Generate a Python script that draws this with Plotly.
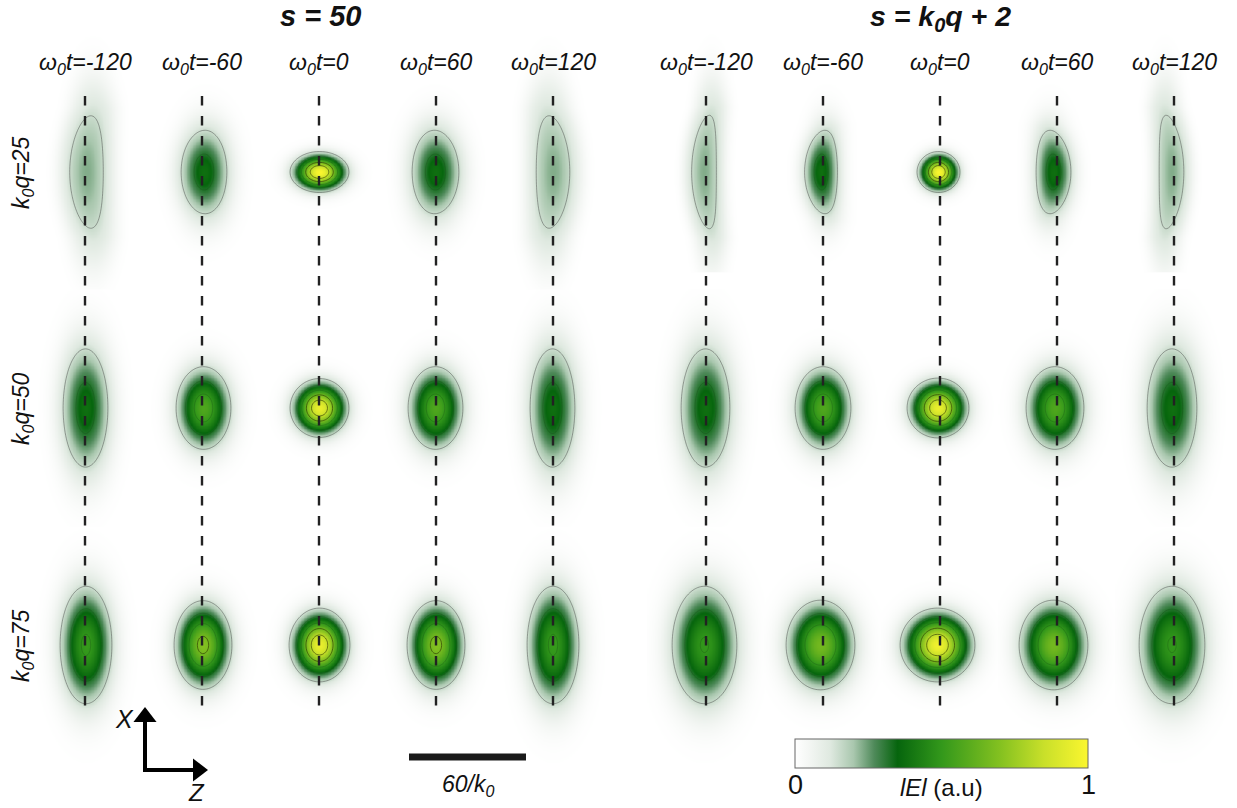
import numpy as np
import plotly.graph_objects as go

# --- values -----------------------------------------------------------------
time_labels = ["-120", "-60", "0", "60", "120"]
q_labels = ["25", "50", "75"]
group_titles = ["s = 50", "s = k<sub>0</sub>q + 2"]

# column / row positions of the panels
line_x = [85, 202, 319, 436, 553, 706, 823, 940, 1057, 1174]
row_y = [172, 408, 645]

# per panel (row by row, 10 columns): peak |E|, contour centre, half widths, bow
peak_q25 = [.23, .38, 1.0, .38, .23, .23, .38, 1.0, .38, .23]
peak_q50 = [.38, .57, .95, .57, .38, .38, .57, .95, .57, .38]
peak_q75 = [.51, .70, .95, .70, .51, .50, .66, .97, .66, .50]

center_q25 = [86.5, 204, 319.5, 435.5, 553, 704, 821, 938.5, 1053.5, 1171.5]
center_q50 = [85.5, 203.5, 319.5, 435.5, 552.5, 705.5, 823, 938, 1055, 1172]
center_q75 = [86, 203, 319.5, 436, 553, 704.5, 820.5, 937.5, 1053.5, 1172]

half_z_q25 = [17, 23, 29.5, 23.5, 17, 12.5, 16.5, 21.5, 17.5, 12.5]
half_z_q50 = [22.5, 27.5, 29.5, 27.5, 22.5, 24.5, 28, 31, 29, 25]
half_z_q75 = [26, 29, 30.5, 29, 26, 32.5, 34.5, 37.5, 34.5, 33]

half_x_q25 = [57, 42, 20.5, 42, 57, 57.5, 42, 20.5, 42, 57.5]
half_x_q50 = [59.5, 41.5, 29.5, 41.5, 59.5, 59.5, 41.5, 30, 41.5, 59.5]
half_x_q75 = [59, 44.5, 37, 44.5, 59, 59, 45, 37, 45, 59]

bow_q25 = [4.5, 1, 0, -1, -4, 5.5, 4, 0, -3.5, -5.5]
bow_q50 = [0, 0, 0, 0, 0, 0, 0, 0, 0, 0]
bow_q75 = [0, 0, 0, 0, 0, 0, 0, 0, 0, 0]

level_outer = 0.15
levels_mid = [0.32, 0.49]
levels_high = [0.66, 0.83]

color_stops = [
    [0.00, "#ffffff"], [0.05, "#f3f6f3"], [0.12, "#dfe9e0"], [0.20, "#a9c7ae"],
    [0.27, "#4f8a5a"], [0.35, "#06650d"], [0.50, "#33981b"], [0.70, "#84c120"],
    [0.85, "#c9e02a"], [1.00, "#fbf62f"],
]

peaks = [peak_q25, peak_q50, peak_q75]
centers = [center_q25, center_q50, center_q75]
half_z = [half_z_q25, half_z_q50, half_z_q75]
half_x = [half_x_q25, half_x_q50, half_x_q75]
bows = [bow_q25, bow_q50, bow_q75]

fig = go.Figure()
contours = []


def contour(xs, ys, Z, lo, hi, step, color):
    return go.Contour(
        x=xs, y=ys, z=Z, autocontour=False, showscale=False, hoverinfo="skip",
        contours=dict(start=lo, end=hi, size=step, coloring="none"),
        line=dict(color=color, width=1, smoothing=1))


for r in range(3):
    for c in range(10):
        A, cz, a, b, k = peaks[r][c], centers[r][c], half_z[r][c], half_x[r][c], bows[r][c]
        y0 = row_y[r]
        top = y0 - (142 if r == 0 else 118)
        bottom = y0 + 118
        if r == 0 and c >= 5:
            bottom = 272
        xs = np.arange(line_x[c] - 58, line_x[c] + 58.1, 1.5)
        ys = np.arange(top, bottom + .1, 1.5)
        X, Y = np.meshgrid(xs, ys)
        v = (Y - y0) / b
        u = (X - cz - k * np.minimum(v ** 2, 1.3)) / a
        rho = u ** 2 + v ** 2
        decay = np.log(A / level_outer)
        Z = np.round(A * np.exp(-decay * rho - 0.012 * rho ** 3), 4)
        fig.add_trace(go.Heatmap(x=xs, y=ys, z=Z, coloraxis="coloraxis", zsmooth="best",
                                 hoverinfo="skip"))
        contours.append(contour(xs, ys, Z, level_outer, level_outer, 1, "rgba(50,50,50,0.42)"))
        contours.append(contour(xs, ys, Z, levels_mid[0], levels_mid[1], levels_mid[1] - levels_mid[0],
                                "rgba(20,70,20,0.28)"))
        contours.append(contour(xs, ys, Z, levels_high[0], levels_high[1], levels_high[1] - levels_high[0],
                                "rgba(40,50,0,0.6)"))
fig.add_traces(contours)

# dashed guide lines
for x in line_x:
    fig.add_trace(go.Scatter(x=[x, x], y=[96, 714], mode="lines", hoverinfo="skip",
                             line=dict(color="#222222", width=2.4, dash="9.5px,10.5px")))

# orientation arrows
fig.add_trace(go.Scatter(x=[145, 145, 196], y=[720, 770, 770], mode="lines", hoverinfo="skip",
                         line=dict(color="black", width=4)))
fig.add_trace(go.Scatter(x=[145], y=[717], mode="markers", hoverinfo="skip",
                         marker=dict(symbol="triangle-up", size=20, color="black")))
fig.add_trace(go.Scatter(x=[198], y=[770], mode="markers", hoverinfo="skip",
                         marker=dict(symbol="triangle-right", size=20, color="black")))
# scale bar
fig.add_trace(go.Scatter(x=[409, 526], y=[757, 757], mode="lines", hoverinfo="skip",
                         line=dict(color="#1a1a1a", width=7)))

FONT = "Liberation Sans, Arial, sans-serif"
ann = []


def text(x, y, s, size, angle=0, yanchor="middle"):
    ann.append(dict(x=x, y=y, xref="x", yref="y", text=s, showarrow=False, textangle=angle,
                    font=dict(family=FONT, size=size, color="#111111"),
                    xanchor="center", yanchor=yanchor))


text(320, 16, "<b><i>" + group_titles[0] + "</i></b>", 29)
text(940, 18, "<b><i>" + group_titles[1] + "</i></b>", 28.5)
for c in range(10):
    text(line_x[c], 63, "<i>ω<sub>0</sub>t=" + time_labels[c % 5] + "</i>", 23)
for r in range(3):
    text(22, row_y[r] + 1, "<i>k<sub>0</sub>q=" + q_labels[r] + "</i>", 23, -90)
text(124, 719, "<i>X</i>", 25)
text(196, 808, "<i>Z</i>", 24, yanchor="bottom")
text(468, 785, "<i>60/k<sub>0</sub></i>", 23)
text(941, 787, "<i>lEl</i> (a.u)", 24)
text(795, 785, "0", 27)
text(1088, 785, "1", 27)

fig.update_layout(
    width=1237, height=808, margin=dict(l=0, r=0, t=0, b=0),
    paper_bgcolor="white", plot_bgcolor="white", showlegend=False,
    xaxis=dict(range=[0, 1237], visible=False, fixedrange=True),
    yaxis=dict(range=[808, 0], visible=False, fixedrange=True),
    annotations=ann,
    coloraxis=dict(
        cmin=0, cmax=1, colorscale=color_stops,
        colorbar=dict(
            orientation="h", x=795 / 1237, xanchor="left", y=1 - 769 / 808, yanchor="bottom",
            len=293, lenmode="pixels", thickness=29, thicknessmode="pixels",
            xpad=0, ypad=0, outlinecolor="#666666", outlinewidth=1, borderwidth=0,
            tickvals=[0, 1], showticklabels=False, ticks="",
        ),
    ),
)

fig.write_html("out.html", config=dict(displayModeBar=False),
               post_script="document.body.style.margin='0';document.body.style.overflow='hidden';")
